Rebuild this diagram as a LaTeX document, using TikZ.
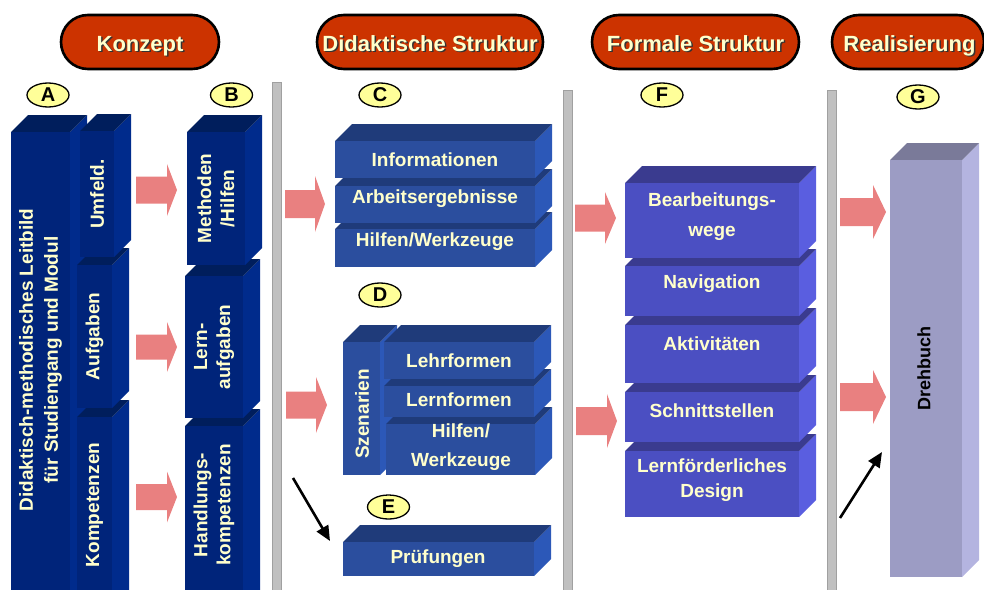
\documentclass[tikz,border=0pt]{standalone}
\usepackage{fontspec}
\setmainfont{Liberation Sans}
\usetikzlibrary{fit,shapes.geometric,shapes.misc,arrows.meta}
\definecolor{cream}{RGB}{255,255,204}
\definecolor{hred}{RGB}{204,51,0}
\definecolor{lyel}{RGB}{255,255,153}
\definecolor{aFront}{RGB}{0,36,122}
\definecolor{aTop}{RGB}{0,30,92}
\definecolor{aSide}{RGB}{0,43,140}
\definecolor{cFront}{RGB}{43,78,158}
\definecolor{cTop}{RGB}{31,59,122}
\definecolor{cSide}{RGB}{44,88,184}
\definecolor{fFront}{RGB}{75,79,194}
\definecolor{fTop}{RGB}{58,59,143}
\definecolor{fSide}{RGB}{90,94,224}
\definecolor{gFront}{RGB}{156,156,196}
\definecolor{gTop}{RGB}{122,122,153}
\definecolor{gSide}{RGB}{180,180,224}
\definecolor{rArrow}{RGB}{233,128,128}
\definecolor{sepGray}{RGB}{192,192,192}
\definecolor{sepEdge}{RGB}{160,160,160}

% 3D box: name, x1, y1, x2, y2, colour prefix
\newcommand\cubebox[6]{%
  \fill[#6Side] (#4,#3) -- (#4+17,#3-17) -- (#4+17,#5-17) -- (#4,#5) -- cycle;
  \fill[#6Top] (#2,#3) -- (#2+17,#3-17) -- (#4+17,#3-17) -- (#4,#3) -- cycle;
  \node[fit={(#2,#3) (#4,#5)}, inner sep=0pt, fill=#6Front] (#1) {};}

% block arrow: name, xLeft, yCentre, xNeck, xTip, bodyHalf, headHalf
\newcommand\blockarrow[7]{%
  \fill[rArrow] (#2,#3-#6) -- (#4,#3-#6) -- (#4,#3-#7) -- (#5,#3) -- (#4,#3+#7) -- (#4,#3+#6) -- (#2,#3+#6) -- cycle;
  \coordinate (#1) at (#5,#3);}

\begin{document}
\begin{tikzpicture}[x=1pt,y=-1pt,
  txt/.style={text=cream, font=\fontsize{19}{23}\selectfont\bfseries, align=center, inner sep=0pt},
  pill/.style={rounded rectangle, fill=hred, draw=black, line width=2.6pt, minimum height=54, inner sep=0pt},
  htxt/.style={text=cream, font=\fontsize{22}{24}\selectfont\bfseries, inner sep=0pt, anchor=base},
  hshadow/.style={text=black!80, font=\fontsize{22}{24}\selectfont\bfseries, inner sep=0pt, anchor=base},
  lab/.style={ellipse, fill=lyel, draw=black, line width=1.3pt, minimum width=42, minimum height=24, inner sep=0pt, font=\fontsize{20}{20}\selectfont\bfseries},
  blk/.style={line width=2.6pt, -{Triangle[length=15pt,width=13pt]}},
  sep/.style={fill=sepGray, draw=sepEdge, line width=0.6pt}]
\useasboundingbox (0,0) rectangle (984,589);

% headers
\node[pill, minimum width=158] (h1) at (140,42) {};
\node[hshadow] (h1s) at (141.5,52.5) {Konzept};
\node[htxt] (h1t) at (140,51) {Konzept};
\node[pill, minimum width=226] (h2) at (430,42) {};
\node[hshadow] (h2s) at (431.5,52.5) {Didaktische Struktur};
\node[htxt] (h2t) at (430,51) {Didaktische Struktur};
\node[pill, minimum width=207] (h3) at (695.5,42) {};
\node[hshadow] (h3s) at (697,52.5) {Formale Struktur};
\node[htxt] (h3t) at (695.5,51) {Formale Struktur};
\node[pill, minimum width=152] (h4) at (908,42) {};
\node[hshadow] (h4s) at (911,52.5) {Realisierung};
\node[htxt] (h4t) at (909.5,51) {Realisierung};

% separators
\path[sep] (272,82) rectangle (281,595);
\path[sep] (563,90) rectangle (572,595);
\path[sep] (827,90) rectangle (836,595);

% letter labels
\node[lab] (lA) at (48,95) {A};
\node[lab] (lB) at (231.5,95) {B};
\node[lab] (lC) at (380,95) {C};
\node[lab] (lD) at (380,295) {D};
\node[lab] (lE) at (388.5,507) {E};
\node[lab] (lF) at (662,95) {F};
\node[lab] (lG) at (918,97) {G};

% column A
\cubebox{leit}{11}{132}{70}{610}{a}
\cubebox{komp}{77}{417}{112}{610}{a}
\cubebox{aufg}{77}{265}{112}{408}{a}
\cubebox{umf}{80}{131}{114}{257}{a}
\node[txt, rotate=90, font=\fontsize{19}{25}\selectfont\bfseries] (leitT) at (40.5,360) {Didaktisch-methodisches Leitbild\\für Studiengang und Modul};
\node[txt, rotate=90] (umfT) at (umf.center) {Umfeld.};
\node[txt, rotate=90] (aufgT) at (aufg.center) {Aufgaben};
\node[txt, rotate=90] (kompT) at (94.5,505) {Kompetenzen};

% column B
\cubebox{hand}{185}{426}{243}{610}{a}
\cubebox{lern}{185}{276}{243}{418}{a}
\cubebox{meth}{187}{132}{245}{265}{a}
\node[txt, rotate=90] (methT) at (meth.center) {Methoden\\/Hilfen};
\node[txt, rotate=90] (lernT) at (lern.center) {Lern-\\aufgaben};
\node[txt, rotate=90] (handT) at (214,505) {Handlungs-\\kompetenzen};

% arrows A -> B
\blockarrow{ab1}{136}{190}{167}{177}{13.5}{26}
\blockarrow{ab2}{136}{347}{167}{177}{12.5}{25}
\blockarrow{ab3}{136}{497}{167}{177}{13}{25.5}

% column C
\cubebox{hilfC}{335}{229}{535}{267}{c}
\cubebox{arb}{335}{186}{535}{223}{c}
\cubebox{info}{335}{141}{535}{178}{c}
\node[txt] (infoT) at (435,160) {Informationen};
\node[txt] (arbT) at (435,199) {Arbeitsergebnisse};
\node[txt] (hilfCT) at (435,242) {Hilfen/Werkzeuge};

% column D
\cubebox{szen}{343}{342}{380}{475}{c}
\cubebox{hilfD}{386}{424}{535}{475}{c}
\cubebox{lernf}{384}{386}{534}{417}{c}
\cubebox{lehr}{384}{342}{534}{379}{c}
\node[txt, rotate=90] (szenT) at (362,414) {Szenarien};
\node[txt] (lehrT) at (459,361) {Lehrformen};
\node[txt] (lernfT) at (459,400) {Lernformen};
\node[txt, font=\fontsize{19}{29}\selectfont\bfseries] (hilfDT) at (461,447) {Hilfen/\\Werkzeuge};

% column E
\cubebox{pruef}{343}{542}{534}{576}{c}
\node[txt] (pruefT) at (438,559) {Prüfungen};

% arrows B -> C/D
\blockarrow{bc}{285}{204}{315}{325}{14}{28}
\blockarrow{bd}{286}{405}{316}{327}{13.5}{28}
\coordinate (k1) at (293,478);
\coordinate (k2) at (330,541);
\draw[blk] (k1) -- (k2);

% column F
\cubebox{design}{625}{451}{799}{517}{f}
\cubebox{schn}{625}{392}{799}{442}{f}
\cubebox{akt}{625}{325}{799}{383}{f}
\cubebox{nav}{625}{266}{799}{316}{f}
\cubebox{bearb}{625}{183}{799}{258}{f}
\node[txt, font=\fontsize{19}{30}\selectfont\bfseries] (bearbT) at (712,217) {Bearbeitungs-\\wege};
\node[txt] (navT) at (712,284) {Navigation};
\node[txt] (aktT) at (712,344) {Aktivitäten};
\node[txt] (schnT) at (712,411) {Schnittstellen};
\node[txt, font=\fontsize{19}{25}\selectfont\bfseries] (designT) at (712,480) {Lernförderliches\\Design};

% arrows -> F
\blockarrow{df1}{575}{218}{605}{616}{13.5}{26}
\blockarrow{df2}{576}{421}{607}{617}{14}{27}

% column G
\cubebox{dreh}{890}{160}{962}{577}{g}
\node[rotate=90, font=\fontsize{18}{20}\selectfont\bfseries, inner sep=0pt] (drehT) at (924,368) {Drehbuch};

% arrows -> G
\blockarrow{fg1}{840}{212}{873}{886}{14}{27}
\blockarrow{fg2}{840}{397}{873}{886}{14}{27}
\coordinate (k3) at (840,518);
\coordinate (k4) at (882,452);
\draw[blk] (k3) -- (k4);
\end{tikzpicture}
\end{document}
